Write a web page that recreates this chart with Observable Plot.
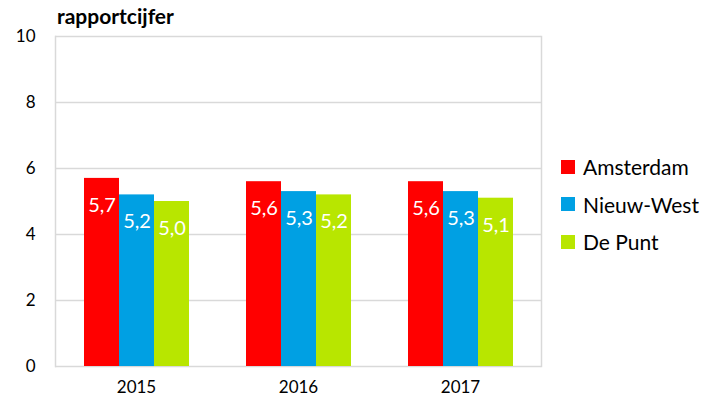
<!DOCTYPE html>
<html>
<head>
<meta charset="utf-8">
<script src="https://cdn.jsdelivr.net/npm/d3@7"></script>
<script src="https://cdn.jsdelivr.net/npm/@observablehq/plot@0.6"></script>
<style>
  body { margin: 0; background: #fff; }
  #wrap { position: relative; width: 704px; height: 403px; font-family: Lato, "Open Sans", sans-serif; }
  #title { position: absolute; left: 57px; top: 3px; font-size: 21px; font-weight: bold; color: #000; }
  #legend { position: absolute; left: 561px; top: 148px; font-size: 21px; color: #000; }
  .item { display: flex; align-items: center; height: 37.5px; }
  .sw { width: 14px; height: 14px; margin-right: 8px; }
</style>
</head>
<body>
<div id="wrap">
  <div id="title">rapportcijfer</div>
  <div id="legend"></div>
</div>
<script>
const years = ["2015", "2016", "2017"];
const series = ["Amsterdam", "Nieuw-West", "De Punt"];
const amsterdam = [5.7, 5.6, 5.6];
const nieuwWest = [5.2, 5.3, 5.3];
const dePunt = [5.0, 5.2, 5.1];
const colors = ["#ff0000", "#00a0e3", "#b8e600"];
const yTicks = [0, 2, 4, 6, 8, 10];

const values = [amsterdam, nieuwWest, dePunt];
const data = [];
years.forEach((yr, i) => series.forEach((s, j) => data.push({year: yr, series: s, value: values[j][i]})));
const fmt = v => v.toFixed(1).replace(".", ",");

const chart = Plot.plot({
  width: 704,
  height: 403,
  marginTop: 36,
  marginBottom: 37,
  marginLeft: 55,
  marginRight: 163,
  style: {fontFamily: "Lato, 'Open Sans', sans-serif", fontSize: "17px", color: "#000", background: "transparent"},
  fx: {domain: years, padding: 0, label: null, axis: "bottom", tickSize: 0, tickPadding: 14},
  x: {domain: series, paddingInner: 0, paddingOuter: 0.77, axis: null},
  y: {domain: [0, 10], ticks: yTicks, label: null, tickSize: 0, tickPadding: 20},
  color: {domain: series, range: colors},
  marks: [
    Plot.gridY(yTicks, {stroke: "#d9d9d9", strokeOpacity: 1, strokeWidth: 1.5}),
    Plot.frame({anchor: "left", facetAnchor: "left", stroke: "#d9d9d9", strokeWidth: 1.5}),
    Plot.frame({anchor: "right", facetAnchor: "right", stroke: "#d9d9d9", strokeWidth: 1.5}),
    Plot.barY(data, {fx: "year", x: "series", y: "value", fill: "series", insetLeft: 0, insetRight: 0}),
    Plot.text(data, {fx: "year", x: "series", y: "value", text: d => fmt(d.value), fill: "white", dy: 27, fontSize: 20}),
    Plot.axisY({ticks: yTicks, tickSize: 0, tickPadding: 20, fontSize: 17})
  ]
});
const wrap = document.getElementById("wrap");
wrap.insertBefore(chart, wrap.firstChild);
chart.style.position = "absolute";
chart.style.left = "0";
chart.style.top = "0";

const legend = document.getElementById("legend");
series.forEach((s, i) => {
  const it = document.createElement("div");
  it.className = "item";
  const sw = document.createElement("div");
  sw.className = "sw";
  sw.style.background = colors[i];
  const t = document.createElement("span");
  t.textContent = s;
  it.appendChild(sw);
  it.appendChild(t);
  legend.appendChild(it);
});
</script>
</body>
</html>
